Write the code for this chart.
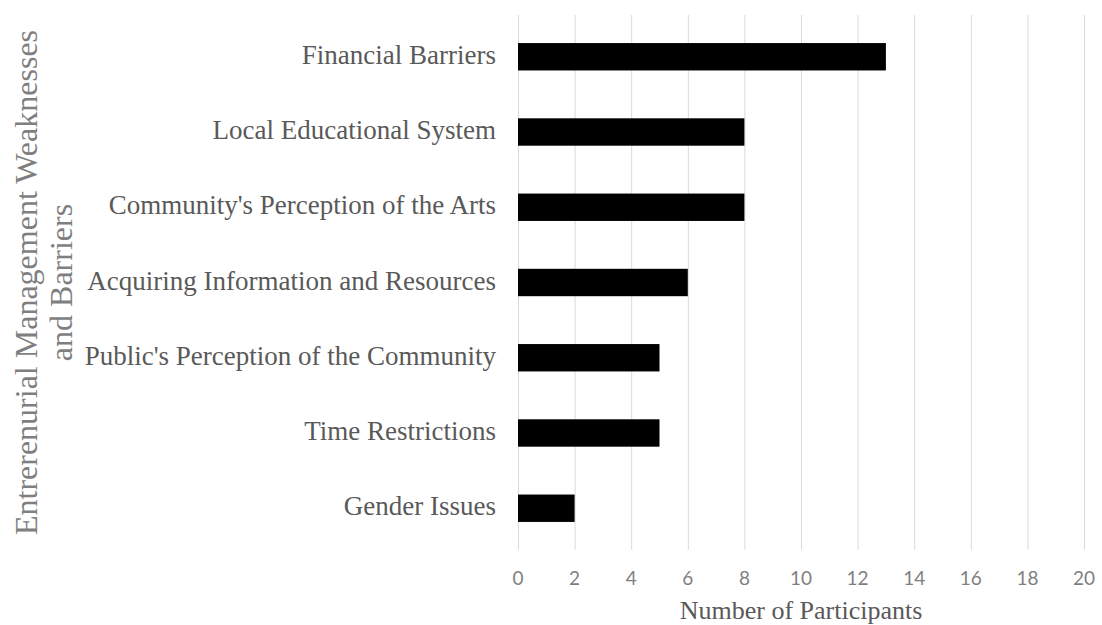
<!DOCTYPE html>
<html>
<head>
<meta charset="utf-8">
<script src="https://cdn.jsdelivr.net/npm/d3@7"></script>
<style>
  body { margin: 0; background: #fff; }
  svg { display: block; }
</style>
</head>
<body>
<div id="chart-area"></div>
<script>
let gridColor = "#d9d9d9";
let labelGray = "#595959";
let tickGray = "#7f7f7f";

// data, top to bottom
const categories = [
  "Financial Barriers",
  "Local Educational System",
  "Community's Perception of the Arts",
  "Acquiring Information and Resources",
  "Public's Perception of the Community",
  "Time Restrictions",
  "Gender Issues",
];
const participants = [13, 8, 8, 6, 5, 5, 2];
const xTicks = [0, 2, 4, 6, 8, 10, 12, 14, 16, 18, 20];
const yTitleLines = ["Entrerenurial Management Weaknesses", "and Barriers"];
const xTitle = "Number of Participants";

const width = 1102;
const height = 625;

const margin = { top: 15, right: 18, bottom: 75, left: 518 };

const serif = "'Liberation Serif', 'Times New Roman', serif";

const svg = d3
  .select("#chart-area")
  .append("svg")
  .attr("width", width)
  .attr("height", height);

const x = d3
  .scaleLinear()
  .domain([0, 20])
  .range([margin.left, width - margin.right]);

const y = d3
  .scaleBand()
  .domain(categories)
  .range([margin.top, height - margin.bottom])
  .paddingInner(0.636)
  .paddingOuter(0.373);

//gridlines
svg
  .selectAll(".grid")
  .data(xTicks)
  .enter()
  .append("line")
  .attr("class", "grid")
  .attr("x1", (d) => x(d) + 0.5)
  .attr("x2", (d) => x(d) + 0.5)
  .attr("y1", margin.top)
  .attr("y2", height - margin.bottom)
  .style("stroke", gridColor)
  .style("stroke-width", 1);

//bars
svg
  .selectAll(".bar")
  .data(categories)
  .enter()
  .append("rect")
  .attr("class", "bar")
  .attr("x", x(0))
  .attr("y", (d) => y(d))
  .attr("width", (d, i) => x(participants[i]) - x(0))
  .attr("height", y.bandwidth())
  .style("fill", "#000");

//category labels
svg
  .selectAll(".cat-label")
  .data(categories)
  .enter()
  .append("text")
  .attr("class", "cat-label")
  .attr("x", x(0) - 22)
  .attr("y", (d) => y(d) + y.bandwidth() / 2 + 7)
  .style("text-anchor", "end")
  .style("font-family", serif)
  .style("font-size", "27px")
  .style("fill", labelGray)
  .text((d) => d);

//tick labels
svg
  .selectAll(".tick-label")
  .data(xTicks)
  .enter()
  .append("text")
  .attr("class", "tick-label")
  .attr("x", (d) => x(d))
  .attr("y", 585)
  .style("text-anchor", "middle")
  .style("font-family", "Lato, 'Open Sans', sans-serif")
  .style("font-size", "19px")
  .style("fill", tickGray)
  .text((d) => d);

//x title
svg
  .append("text")
  .attr("x", (x(0) + x(20)) / 2)
  .attr("y", 619)
  .style("text-anchor", "middle")
  .style("font-family", serif)
  .style("font-size", "26px")
  .style("fill", labelGray)
  .text(xTitle);

//y title, two lines rotated
const yMid = (margin.top + height - margin.bottom) / 2;
const yTitle = svg
  .append("text")
  .attr("transform", `translate(37, ${yMid}) rotate(-90)`)
  .style("text-anchor", "middle")
  .style("font-family", serif)
  .style("font-size", "32px")
  .style("fill", tickGray);

yTitleLines.forEach((line, i) => {
  yTitle
    .append("tspan")
    .attr("x", 0)
    .attr("dy", i === 0 ? 0 : 35)
    .text(line);
});
</script>
</body>
</html>
